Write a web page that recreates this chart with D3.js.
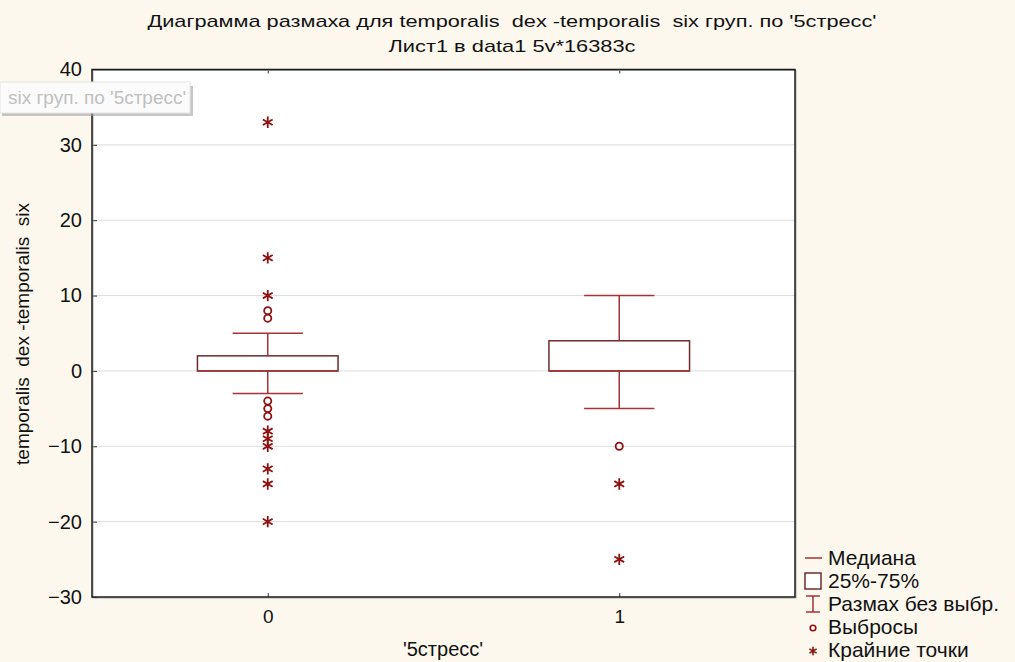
<!DOCTYPE html>
<html><head><meta charset="utf-8">
<script src="https://cdn.jsdelivr.net/npm/d3@7"></script>
<style>body{margin:0;background:#fdf8ee;}svg{display:block;}text{white-space:pre;}</style>
</head><body>
<script>
const categories = ["0", "1"];
const q1 = [0, 0];
const q3 = [2, 4];
const medians = [0, 0];
const whiskerLow = [-3, -5];
const whiskerHigh = [5, 10];
const outliers = [[8, 7, -4, -5, -6], [-10]];
const extremes = [[33, 15, 10, -8, -9, -10, -13, -15, -20], [-15, -25]];
const yTicks = [-30, -20, -10, 0, 10, 20, 30, 40];
const legendLabels = ["Медиана", "25%-75%", "Размах без выбр.", "Выбросы", "Крайние точки"];

const W = 1015, H = 662;
const L = 92, R = 795, T = 69.5, B = 597;
const svg = d3.select("body").append("svg").attr("width", W).attr("height", H);
svg.append("rect").attr("width", W).attr("height", H).attr("fill", "#fdf8ee");

const x = d3.scaleLinear().domain([-0.5, 1.5]).range([L, R]);
const y = d3.scaleLinear().domain([-30, 40]).range([B, T]);
const font = "'Liberation Sans', Arial, sans-serif";

// plot area
svg.append("rect").attr("x", L).attr("y", T).attr("width", R - L).attr("height", B - T).attr("fill", "#fff");
// grid
svg.append("g").selectAll("line").data(yTicks.filter(t => t > -30 && t < 40)).join("line")
  .attr("x1", L).attr("x2", R).attr("y1", d => y(d)).attr("y2", d => y(d))
  .attr("stroke", "#dcdcdc").attr("stroke-width", 1);

// y axis
const yAxis = d3.axisLeft(y).tickValues(yTicks).tickSize(-5).tickPadding(10).tickFormat(d3.format("d"));
const ya = svg.append("g").attr("transform", `translate(${L},0)`).call(yAxis);
ya.select(".domain").remove();
ya.selectAll("line").attr("stroke", "#333");
ya.selectAll("text").attr("font-family", font).attr("font-size", 20).attr("fill", "#111");

// x axis
const xAxis = d3.axisBottom(x).tickValues([0, 1]).tickFormat(d => categories[d]).tickSize(-4).tickPadding(13);
const xa = svg.append("g").attr("transform", `translate(0,${B})`).call(xAxis);
xa.select(".domain").remove();
xa.selectAll("line").attr("stroke", "#333");
xa.selectAll("text").attr("font-family", font).attr("font-size", 19).attr("fill", "#111");
const xTop = d3.axisTop(x).tickValues([0, 1]).tickFormat("").tickSize(-4);
const xt = svg.append("g").attr("transform", `translate(0,${T})`).call(xTop);
xt.select(".domain").remove();
xt.selectAll("line").attr("stroke", "#333");

// frame
svg.append("rect").attr("x", L + 1).attr("y", T + 1).attr("width", R - L).attr("height", B - T)
  .attr("fill", "none").attr("stroke", "#aaa").attr("stroke-width", 1);
svg.append("rect").attr("x", L).attr("y", T).attr("width", R - L).attr("height", B - T)
  .attr("fill", "none").attr("stroke", "#1a1a1a").attr("stroke-width", 1.5);

const boxColor = "#6e2b2b", whiskColor = "#a83236", markColor = "#8e1010";
const boxW = 0.4, capW = 0.2;
const g = svg.append("g");
categories.forEach((c, i) => {
  const cx = x(i);
  g.append("line").attr("x1", cx).attr("x2", cx).attr("y1", y(q3[i])).attr("y2", y(whiskerHigh[i]))
    .attr("stroke", whiskColor).attr("stroke-width", 1.5);
  g.append("line").attr("x1", cx).attr("x2", cx).attr("y1", y(q1[i])).attr("y2", y(whiskerLow[i]))
    .attr("stroke", whiskColor).attr("stroke-width", 1.5);
  [whiskerHigh[i], whiskerLow[i]].forEach(v => {
    g.append("line").attr("x1", x(i - capW / 2)).attr("x2", x(i + capW / 2)).attr("y1", y(v)).attr("y2", y(v))
      .attr("stroke", whiskColor).attr("stroke-width", 1.5);
  });
  g.append("rect").attr("x", x(i - boxW / 2)).attr("width", x(i + boxW / 2) - x(i - boxW / 2))
    .attr("y", y(q3[i])).attr("height", y(q1[i]) - y(q3[i]))
    .attr("fill", "#fff").attr("stroke", boxColor).attr("stroke-width", 1.5);
  g.append("line").attr("x1", x(i - boxW / 2)).attr("x2", x(i + boxW / 2)).attr("y1", y(medians[i])).attr("y2", y(medians[i]))
    .attr("stroke", whiskColor).attr("stroke-width", 1.5);
  g.selectAll(null).data(outliers[i]).join("circle")
    .attr("cx", cx).attr("cy", d => y(d)).attr("r", 3.6)
    .attr("fill", "none").attr("stroke", markColor).attr("stroke-width", 1.8);
  g.selectAll(null).data(extremes[i]).join("path")
    .attr("transform", d => `translate(${cx},${y(d)})`)
    .attr("d", d3.symbol(d3.symbolAsterisk, 90))
    .attr("fill", "none").attr("stroke", markColor).attr("stroke-width", 1.8);
});

// titles
svg.append("text").attr("x", 512).attr("y", 27).attr("text-anchor", "middle")
  .attr("font-family", font).attr("font-size", 17).attr("fill", "#111")
  .attr("textLength", 729).attr("lengthAdjust", "spacingAndGlyphs")
  .text("Диаграмма размаха для temporalis  dex -temporalis  six груп. по '5стресс'");
svg.append("text").attr("x", 512).attr("y", 52).attr("text-anchor", "middle")
  .attr("font-family", font).attr("font-size", 17).attr("fill", "#111")
  .attr("textLength", 247).attr("lengthAdjust", "spacingAndGlyphs")
  .text("Лист1 в data1 5v*16383c");

// axis titles
svg.append("text").attr("transform", "translate(29,334) rotate(-90)").attr("text-anchor", "middle")
  .attr("font-family", font).attr("font-size", 19).attr("fill", "#111")
  .text("temporalis  dex -temporalis  six");
svg.append("text").attr("x", 443).attr("y", 656).attr("text-anchor", "middle")
  .attr("font-family", font).attr("font-size", 20).attr("fill", "#111")
  .text("'5стресс'");

// tooltip artifact
const tip = svg.append("g");
tip.append("rect").attr("x", 2).attr("y", 86).attr("width", 191).attr("height", 30).attr("fill", "#a0a0a0").attr("opacity", 0.6);
tip.append("rect").attr("x", 0).attr("y", 82).attr("width", 190).attr("height", 31).attr("fill", "#fbfbfb").attr("stroke", "#e4e4e4");
tip.append("text").attr("x", 8).attr("y", 104).attr("font-family", font).attr("font-size", 18).attr("fill", "#c0c0c0")
  .attr("textLength", 178).attr("lengthAdjust", "spacingAndGlyphs")
  .text("six груп. по '5стресс'");

// legend
const lg = svg.append("g");
const ly0 = 558, ldy = 23, lx = 813;
legendLabels.forEach((t, k) => {
  lg.append("text").attr("x", 828).attr("y", ly0 + k * ldy + 7).attr("font-family", font)
    .attr("font-size", 21).attr("fill", "#111").text(t);
});
lg.append("line").attr("x1", 805).attr("x2", 822).attr("y1", ly0).attr("y2", ly0).attr("stroke", whiskColor).attr("stroke-width", 1.5);
lg.append("rect").attr("x", 805).attr("y", ly0 + ldy - 8).attr("width", 16).attr("height", 16)
  .attr("fill", "#fff").attr("stroke", boxColor).attr("stroke-width", 1.5);
const iy = ly0 + 2 * ldy;
lg.append("line").attr("x1", 806).attr("x2", 820).attr("y1", iy - 8).attr("y2", iy - 8).attr("stroke", whiskColor).attr("stroke-width", 1.5);
lg.append("line").attr("x1", 806).attr("x2", 820).attr("y1", iy + 8).attr("y2", iy + 8).attr("stroke", whiskColor).attr("stroke-width", 1.5);
lg.append("line").attr("x1", lx).attr("x2", lx).attr("y1", iy - 8).attr("y2", iy + 8).attr("stroke", whiskColor).attr("stroke-width", 1.5);
lg.append("circle").attr("cx", lx).attr("cy", ly0 + 3 * ldy + 1).attr("r", 2.8).attr("fill", "none").attr("stroke", markColor).attr("stroke-width", 1.6);
lg.append("path").attr("transform", `translate(${lx},${ly0 + 4 * ldy + 1})`).attr("d", d3.symbol(d3.symbolAsterisk, 50))
  .attr("fill", "none").attr("stroke", markColor).attr("stroke-width", 1.6);
</script>
</body></html>
